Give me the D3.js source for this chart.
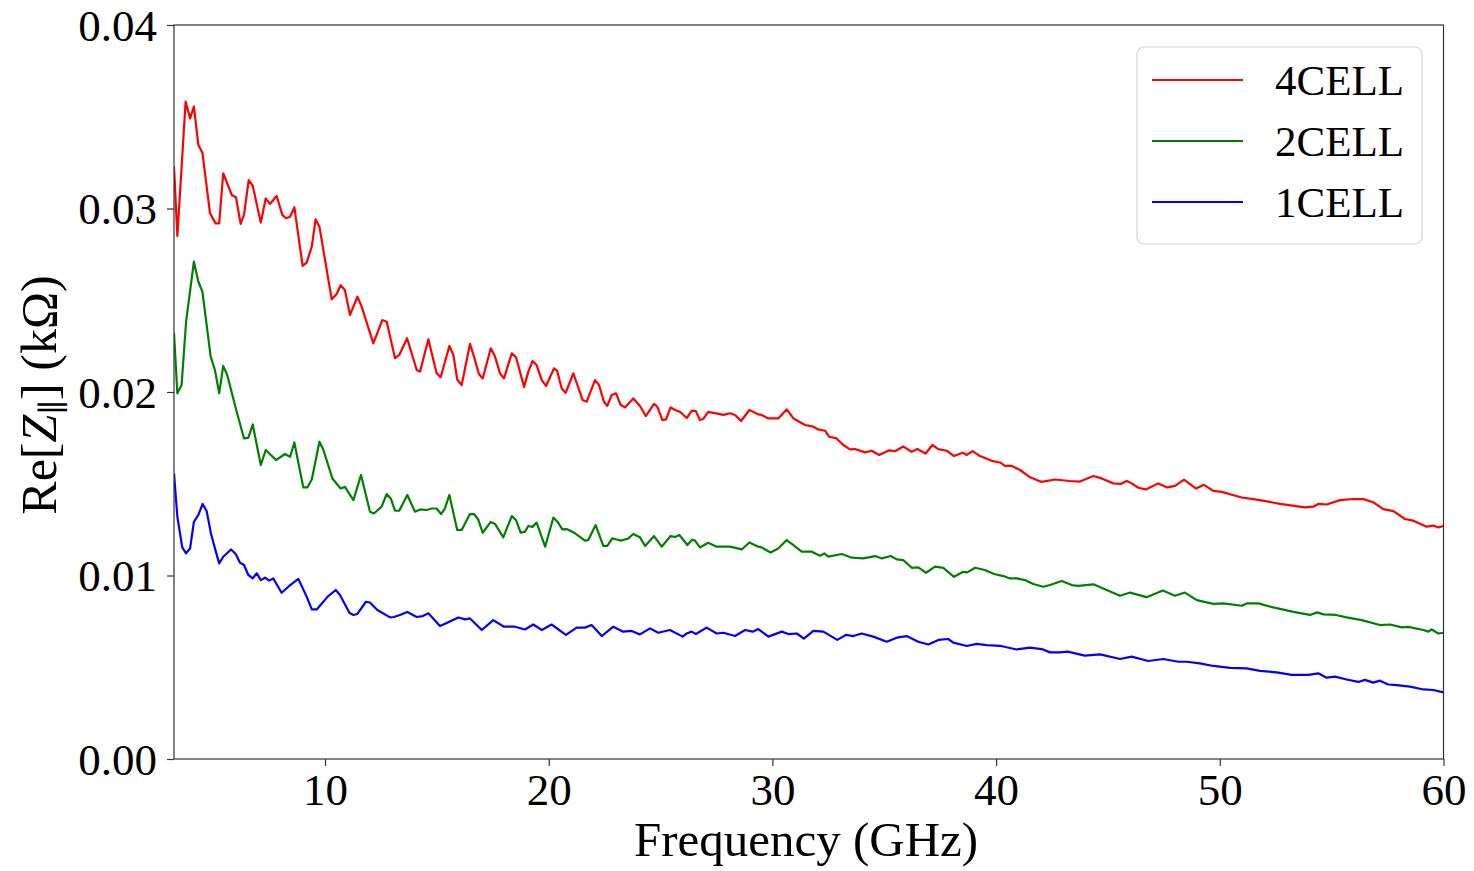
<!DOCTYPE html>
<html>
<head>
<meta charset="utf-8">
<script src="https://cdn.jsdelivr.net/npm/d3@7"></script>
<style>
  html, body { margin: 0; padding: 0; background: #fff; }
  svg { display: block; }
  text { font-family: "Liberation Serif", "DejaVu Serif", serif; fill: #000; }
</style>
</head>
<body>
<svg id="chart" width="1474" height="871"></svg>
<script>
// ---- data (frequency in GHz, Re[Z] in kΩ) ----
const freq4 = [3.25,3.40,3.77,3.97,4.14,4.34,4.52,4.86,5.11,5.27,5.45,5.83,6.02,6.23,6.38,6.59,6.77,7.13,7.35,7.54,7.84,8.09,8.26,8.44,8.63,9.00,9.18,9.41,9.58,9.75,10.30,10.52,10.70,10.89,11.12,11.45,11.64,12.16,12.56,12.76,13.13,13.32,13.67,14.10,14.25,14.62,14.99,15.17,15.56,15.74,15.91,16.11,16.48,16.66,16.88,17.05,17.41,17.60,17.82,18.00,18.35,18.54,18.90,19.09,19.28,19.46,19.69,19.88,20.24,20.38,20.58,20.76,21.10,21.52,21.70,22.07,22.25,22.47,22.62,22.82,23.01,23.22,23.41,23.78,24.08,24.34,24.71,24.86,25.08,25.24,25.45,25.65,25.87,26.17,26.39,26.57,26.76,26.91,27.13,27.81,28.11,28.33,28.60,28.97,29.37,29.52,29.82,30.26,30.64,30.94,31.46,31.83,32.05,32.35,32.54,32.87,33.17,33.47,33.69,34.14,34.44,34.77,35.23,35.48,35.85,36.23,36.48,36.85,37.15,37.42,37.79,38.12,38.51,38.69,38.95,39.28,39.80,40.17,40.40,40.70,41.07,41.52,42.04,42.63,43.30,43.75,44.35,44.72,45.24,45.57,45.84,46.06,46.36,46.70,47.25,47.65,48.00,48.40,48.94,49.29,49.71,50.09,50.98,51.80,52.69,53.81,54.18,54.40,54.78,55.37,55.97,56.42,56.86,57.31,57.76,58.28,58.65,59.25,59.54,59.77,60.00];
const cell4 = [0.0323,0.0285,0.03582,0.03491,0.03555,0.03346,0.03304,0.02974,0.02919,0.02919,0.03192,0.03074,0.03061,0.02916,0.02965,0.03155,0.03123,0.02923,0.03055,0.03025,0.03068,0.02965,0.02947,0.02955,0.03007,0.02687,0.02705,0.02792,0.02941,0.02901,0.02505,0.02534,0.02582,0.02556,0.02420,0.02519,0.02465,0.02265,0.02392,0.02383,0.02184,0.02202,0.02293,0.02120,0.02111,0.02287,0.02102,0.02080,0.02251,0.02202,0.02068,0.02038,0.02262,0.02193,0.02098,0.02074,0.02238,0.02193,0.02102,0.02074,0.02211,0.02189,0.02028,0.02111,0.02169,0.02147,0.02065,0.02033,0.02129,0.02115,0.02019,0.01996,0.02102,0.01956,0.01947,0.02065,0.02038,0.01947,0.01924,0.01984,0.01993,0.01929,0.01916,0.01965,0.01924,0.01869,0.01935,0.01919,0.01847,0.01850,0.01916,0.01902,0.01892,0.01858,0.01897,0.01897,0.01847,0.01853,0.01892,0.01875,0.01884,0.01875,0.01842,0.01902,0.01878,0.01875,0.01856,0.01856,0.01905,0.01856,0.01820,0.01811,0.01796,0.01789,0.01756,0.01747,0.01711,0.01687,0.01689,0.01671,0.01680,0.01657,0.01682,0.01677,0.01703,0.01674,0.01689,0.01665,0.01711,0.01689,0.01680,0.01651,0.01669,0.01657,0.01678,0.01651,0.01625,0.01616,0.01597,0.01597,0.01575,0.01535,0.01510,0.01523,0.01515,0.01512,0.01542,0.01529,0.01502,0.01499,0.01515,0.01502,0.01478,0.01469,0.01502,0.01480,0.01488,0.01523,0.01474,0.01494,0.01461,0.01456,0.01425,0.01411,0.01390,0.01371,0.01375,0.01390,0.01387,0.01411,0.01417,0.01416,0.01399,0.01362,0.01351,0.01308,0.01299,0.01266,0.01272,0.01262,0.01270];

const freq2 = [3.25,3.40,3.59,3.79,4.14,4.34,4.52,4.89,5.08,5.27,5.45,5.63,6.01,6.38,6.57,6.77,7.13,7.35,7.81,8.21,8.44,8.63,9.03,9.21,9.41,9.75,9.92,10.33,10.70,10.89,11.27,11.61,12.01,12.19,12.53,12.76,12.94,13.13,13.32,13.68,14.02,14.25,14.55,14.77,14.99,15.19,15.36,15.56,15.91,16.11,16.48,16.66,16.85,17.05,17.41,17.60,17.97,18.35,18.54,18.75,18.94,19.09,19.27,19.46,19.84,20.21,20.40,20.61,20.80,21.18,21.62,21.77,22.10,22.44,22.62,22.84,23.04,23.22,23.56,23.78,24.08,24.31,24.71,25.05,25.45,25.65,25.84,26.20,26.41,26.54,26.76,27.13,27.51,28.11,28.63,28.97,29.37,29.52,29.92,30.26,30.64,30.94,31.31,31.76,32.13,32.32,32.50,33.10,33.55,34.06,34.59,34.89,35.29,35.56,35.85,36.23,36.52,36.87,37.27,37.64,38.12,38.53,38.71,39.06,39.50,39.91,40.32,40.62,40.92,41.29,41.66,42.11,42.41,42.93,43.38,43.67,44.35,44.94,45.54,45.99,46.73,47.45,48.00,48.44,48.97,49.71,50.16,50.98,51.20,51.72,52.39,53.29,54.03,54.36,54.63,55.19,55.67,56.34,57.16,57.61,58.13,58.43,59.10,59.32,59.47,59.77,60.00];
const cell2 = [0.02320,0.01993,0.02038,0.02383,0.02710,0.02601,0.02547,0.02193,0.02120,0.01993,0.02142,0.02093,0.01911,0.01747,0.01750,0.01823,0.01602,0.01684,0.01629,0.01662,0.01647,0.01725,0.01480,0.01480,0.01523,0.01729,0.01687,0.01529,0.01474,0.01483,0.01411,0.01548,0.01348,0.01338,0.01375,0.01444,0.01420,0.01353,0.01353,0.01439,0.01348,0.01360,0.01357,0.01365,0.01365,0.01335,0.01365,0.01439,0.01248,0.01248,0.01335,0.01335,0.01305,0.01233,0.01292,0.01281,0.01208,0.01324,0.01302,0.01233,0.01239,0.01270,0.01265,0.01288,0.01157,0.01316,0.01292,0.01251,0.01253,0.01230,0.01190,0.01193,0.01275,0.01161,0.01161,0.01202,0.01196,0.01190,0.01202,0.01226,0.01208,0.01161,0.01215,0.01157,0.01215,0.01210,0.01221,0.01166,0.01195,0.01190,0.01153,0.01178,0.01157,0.01157,0.01142,0.01180,0.01157,0.01153,0.01125,0.01147,0.01193,0.01166,0.01130,0.01130,0.01108,0.01120,0.01103,0.01117,0.01097,0.01093,0.01106,0.01093,0.01106,0.01088,0.01084,0.01042,0.01044,0.01015,0.01048,0.01042,0.00993,0.01020,0.01017,0.01042,0.01030,0.01008,0.00997,0.00984,0.00984,0.00975,0.00954,0.00939,0.00948,0.00970,0.00948,0.00943,0.00952,0.00921,0.00890,0.00907,0.00882,0.00918,0.00890,0.00907,0.00866,0.00845,0.00848,0.00835,0.00848,0.00848,0.00826,0.00802,0.00785,0.00799,0.00788,0.00785,0.00772,0.00757,0.00730,0.00733,0.00717,0.00720,0.00703,0.00694,0.00706,0.00684,0.00688];

const freq1 = [3.25,3.40,3.62,3.79,3.97,4.14,4.34,4.53,4.71,4.90,5.08,5.27,5.45,5.80,6.01,6.20,6.38,6.57,6.77,6.95,7.13,7.32,7.50,7.69,8.06,8.40,8.81,9.18,9.41,9.63,10.12,10.48,10.67,11.09,11.27,11.44,11.83,12.01,12.34,12.91,13.08,13.35,13.68,14.10,14.37,14.62,15.14,15.44,15.96,16.26,16.48,17.01,17.52,18.00,18.49,18.94,19.31,19.69,20.13,20.77,21.25,21.62,21.92,22.37,22.89,23.33,23.71,24.08,24.53,24.90,25.42,25.99,26.17,26.39,26.58,27.06,27.51,27.81,28.33,28.78,29.12,29.37,29.82,30.42,30.71,31.09,31.41,31.83,32.28,32.90,33.28,33.62,33.99,34.51,35.11,35.56,36.00,36.52,36.97,37.42,37.86,38.09,38.69,39.13,39.58,40.17,40.92,41.52,42.04,42.41,42.86,43.20,43.97,44.65,45.54,46.06,46.80,47.47,48.15,48.52,49.11,49.71,50.46,51.20,51.80,52.54,53.21,53.96,54.40,54.78,55.15,55.67,56.19,56.49,56.86,57.16,57.53,57.91,58.50,59.10,59.54,60.00];
const cell1 = [0.01557,0.01320,0.01153,0.01121,0.01148,0.01293,0.01330,0.01390,0.01351,0.01230,0.01148,0.01066,0.01102,0.01142,0.01117,0.01070,0.01057,0.01003,0.00984,0.01012,0.00975,0.00988,0.00972,0.00984,0.00906,0.00943,0.00981,0.00885,0.00815,0.00815,0.00885,0.00921,0.00894,0.00797,0.00785,0.00790,0.00857,0.00853,0.00812,0.00772,0.00774,0.00785,0.00801,0.00774,0.00779,0.00794,0.00725,0.00741,0.00771,0.00761,0.00766,0.00703,0.00757,0.00721,0.00721,0.00706,0.00733,0.00703,0.00733,0.00676,0.00716,0.00716,0.00730,0.00670,0.00721,0.00694,0.00698,0.00679,0.00712,0.00688,0.00703,0.00667,0.00684,0.00694,0.00681,0.00716,0.00684,0.00688,0.00670,0.00703,0.00694,0.00708,0.00667,0.00694,0.00681,0.00684,0.00656,0.00698,0.00694,0.00649,0.00676,0.00670,0.00684,0.00667,0.00639,0.00661,0.00670,0.00639,0.00624,0.00649,0.00654,0.00634,0.00616,0.00627,0.00621,0.00617,0.00597,0.00607,0.00599,0.00581,0.00581,0.00585,0.00563,0.00570,0.00545,0.00558,0.00534,0.00545,0.00530,0.00530,0.00521,0.00507,0.00497,0.00494,0.00480,0.00472,0.00458,0.00458,0.00467,0.00443,0.00449,0.00433,0.00420,0.00431,0.00416,0.00427,0.00406,0.00403,0.00394,0.00379,0.00376,0.00363];

const seriesNames = ["4CELL", "2CELL", "1CELL"];
const seriesColors = ["#ff0000", "#008000", "#0000ff"];
const xTicks = [10, 20, 30, 40, 50, 60];
const yTicks = [0.00, 0.01, 0.02, 0.03, 0.04];
const xDomain = [3.25, 60];
const yDomain = [0, 0.04];

// ---- layout ----
const svg = d3.select("#chart");
const L = 174, R = 1443.5, T = 25, B = 759;
const x = d3.scaleLinear().domain(xDomain).range([L, R]);
const y = d3.scaleLinear().domain(yDomain).range([B, T]);

const series = [
  { name: seriesNames[0], color: seriesColors[0], f: freq4, v: cell4 },
  { name: seriesNames[1], color: seriesColors[1], f: freq2, v: cell2 },
  { name: seriesNames[2], color: seriesColors[2], f: freq1, v: cell1 }
];

svg.append("defs").append("clipPath").attr("id", "plotclip")
  .append("rect").attr("x", L).attr("y", T).attr("width", R - L).attr("height", B - T);

const line = d3.line().x(d => x(d[0])).y(d => y(d[1]));
const g = svg.append("g").attr("clip-path", "url(#plotclip)");
series.forEach(s => {
  g.append("path")
    .datum(s.f.map((f, i) => [f, s.v[i]]))
    .attr("fill", "none")
    .attr("stroke", s.color)
    .attr("stroke-width", 2.2)
    .attr("stroke-linejoin", "round")
    .attr("d", line);
});

// frame
svg.append("rect").attr("x", L).attr("y", T).attr("width", R - L).attr("height", B - T)
  .attr("fill", "none").attr("stroke", "#333").attr("stroke-width", 1.2);

// axes
const xAxis = d3.axisBottom(x).tickValues(xTicks).tickSize(7).tickPadding(7).tickFormat(d3.format("d"));
const gx = svg.append("g").attr("transform", `translate(0,${B})`).call(xAxis);
gx.select(".domain").remove();
gx.selectAll("line").attr("stroke", "#333").attr("stroke-width", 1.2);
gx.selectAll("text").style("font-size", "45px").attr("font-family", null);

const yAxis = d3.axisLeft(y).tickValues(yTicks).tickSize(7).tickPadding(10).tickFormat(d3.format(".2f"));
const gy = svg.append("g").attr("transform", `translate(${L},0)`).call(yAxis);
gy.select(".domain").remove();
gy.selectAll("line").attr("stroke", "#333").attr("stroke-width", 1.2);
gy.selectAll("text").style("font-size", "45px").attr("font-family", null).attr("dy", "0.34em");

// axis labels
svg.append("text").attr("x", 806).attr("y", 856)
  .attr("text-anchor", "middle").style("font-size", "49px").text("Frequency (GHz)");

const yl = svg.append("text").attr("transform", "translate(56,395) rotate(-90)")
  .attr("text-anchor", "middle").style("font-size", "50px");
yl.append("tspan").text("Re[");
yl.append("tspan").style("font-style", "italic").text("Z");
yl.append("tspan").attr("baseline-shift", "-25%").style("font-size", "32px").text("∥");
yl.append("tspan").text("] (kΩ)");

// legend
const lg = svg.append("g");
lg.append("rect").attr("x", 1137).attr("y", 47).attr("width", 285).attr("height", 197)
  .attr("rx", 7).attr("fill", "#fff").attr("fill-opacity", 0.8)
  .attr("stroke", "#d4d4d4").attr("stroke-width", 1.2);
series.forEach((s, i) => {
  const yy = 80 + i * 61;
  lg.append("line").attr("x1", 1152).attr("x2", 1243).attr("y1", yy).attr("y2", yy)
    .attr("stroke", s.color).attr("stroke-width", 2.2);
  lg.append("text").attr("x", 1275).attr("y", yy).attr("dy", "0.35em")
    .style("font-size", "43px").text(s.name);
});
</script>
</body>
</html>
